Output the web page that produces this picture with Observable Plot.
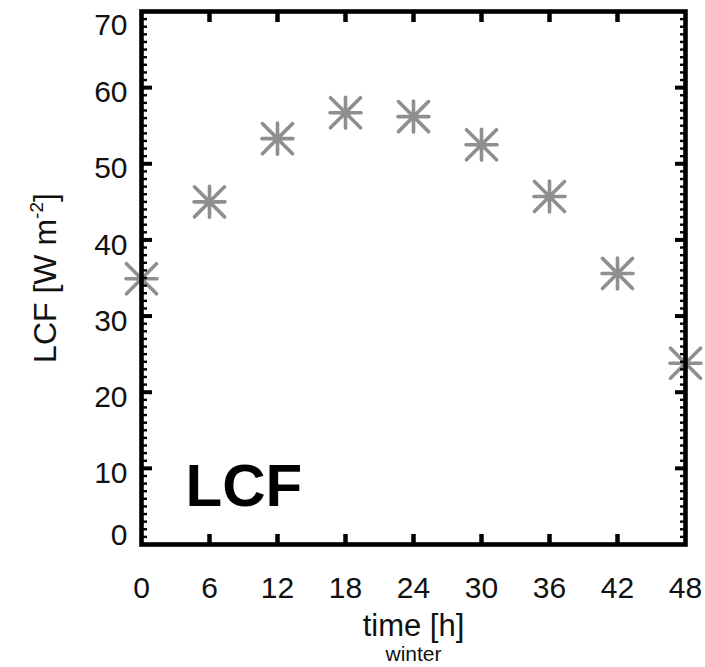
<!DOCTYPE html>
<html>
<head>
<meta charset="utf-8">
<script src="https://cdn.jsdelivr.net/npm/d3@7"></script>
<script src="https://cdn.jsdelivr.net/npm/@observablehq/plot@0.6"></script>
<style>
  html, body { margin: 0; padding: 0; background: #fff; }
  svg { display: block; }
</style>
</head>
<body>
<div id="chart"></div>
<script>
// Data
const hours = [0, 6, 12, 18, 24, 30, 36, 42, 48];
const lcf = [34.9, 45.0, 53.3, 56.7, 56.2, 52.5, 45.7, 35.6, 23.8];

// Tick labels
const xTickLabels = [0, 6, 12, 18, 24, 30, 36, 42, 48];
const xInnerTicks = [6, 12, 18, 24, 30, 36, 42];
const yMidLabels = [10, 20, 30, 40, 50, 60];
const yMajorTicks = [10, 20, 30, 40, 50, 60];
const yMinorTicks = d3.range(0, 71, 1);

const panelLabel = "LCF";
const xLabel = "time [h]";
const xSubLabel = "winter";
const yLabelMain = "LCF [W m";
const yLabelSup = "-2";
const yLabelEnd = "]";

const data = hours.map((h, i) => ({ h, v: lcf[i] }));

// 8-armed asterisk symbol
const asterisk8 = {
  draw(context, size) {
    const r = Math.sqrt(size / Math.PI);
    const d = r * 0.97;
    context.moveTo(-r, 0); context.lineTo(r, 0);
    context.moveTo(0, -r); context.lineTo(0, r);
    context.moveTo(-d, -d); context.lineTo(d, d);
    context.moveTo(-d, d); context.lineTo(d, -d);
  }
};

const FONT = "'Liberation Sans', Arial, Helvetica, sans-serif";

const svg = Plot.plot({
  width: 705,
  height: 667,
  marginLeft: 141,
  marginRight: 20,
  marginTop: 11,
  marginBottom: 123,
  style: { fontFamily: FONT, background: "white", color: "black", overflow: "visible" },
  x: { domain: [0, 48] },
  y: { domain: [0, 70] },
  marks: [
    Plot.dot(data, {
      x: "h", y: "v", symbol: asterisk8, r: 15.5,
      stroke: "#8f8f8f", strokeWidth: 3.6, fill: "none", strokeLinecap: "round"
    }),
    // minor y ticks (left & right)
    Plot.axisY({ anchor: "left", ticks: yMinorTicks, tickSize: -6, strokeWidth: 2.4, fill: "none", label: null }),
    Plot.axisY({ anchor: "right", ticks: yMinorTicks, tickSize: -6, strokeWidth: 2.4, fill: "none", label: null }),
    // major y ticks
    Plot.axisY({ anchor: "left", ticks: yMajorTicks, tickSize: -11, strokeWidth: 4, fill: "none", label: null }),
    Plot.axisY({ anchor: "right", ticks: yMajorTicks, tickSize: -11, strokeWidth: 4, fill: "none", label: null }),
    // x ticks (bottom & top)
    Plot.axisX({ anchor: "bottom", ticks: xInnerTicks, tickSize: -10, strokeWidth: 4.5, fill: "none", label: null }),
    Plot.axisX({ anchor: "top", ticks: xInnerTicks, tickSize: -10, strokeWidth: 4.5, fill: "none", label: null }),
    // y tick labels
    Plot.axisY({ anchor: "left", ticks: yMidLabels, tickSize: 0, tickPadding: 14, fontSize: 30, dy: 5, fill: "#111", label: null }),
    Plot.axisY({ anchor: "left", ticks: [0], tickSize: 0, tickPadding: 14, fontSize: 30, dy: -9, fill: "#111", label: null }),
    Plot.axisY({ anchor: "left", ticks: [70], tickSize: 0, tickPadding: 14, fontSize: 30, dy: 14, fill: "#111", label: null }),
    // x tick labels
    Plot.axisX({ anchor: "bottom", ticks: xTickLabels, tickSize: 0, tickPadding: 32, fontSize: 30, fill: "#111", label: null }),
    // frame
    Plot.frame({ stroke: "black", strokeWidth: 4.6 }),
    // panel label
    Plot.text([panelLabel], {
      text: d => d, frameAnchor: "bottom-left", dx: 44, dy: -39,
      textAnchor: "start", lineAnchor: "bottom", fontSize: 60, fontWeight: "bold", fill: "black"
    }),
    // x axis label
    Plot.text([xLabel], {
      text: d => d, frameAnchor: "bottom", dy: 82, lineAnchor: "middle", fontSize: 31, fill: "#111"
    }),
    Plot.text([xSubLabel], {
      text: d => d, frameAnchor: "bottom", dy: 110, lineAnchor: "middle", fontSize: 21, fill: "#111"
    }),
    // y axis label
    Plot.text([yLabelMain], {
      text: d => d, frameAnchor: "left", dx: -96, rotate: -90, lineAnchor: "middle",
      textAnchor: "middle", fontSize: 32, fill: "#111"
    })
  ]
});

// Build superscript in the y label
d3.select(svg).selectAll("text").each(function () {
  if (this.textContent === yLabelMain) {
    const t = d3.select(this);
    t.attr("text-anchor", "middle");
    t.text(null);
    t.append("tspan").text(yLabelMain);
    t.append("tspan").attr("dy", -13).attr("font-size", 19).text(yLabelSup);
    t.append("tspan").attr("dy", 13).text(yLabelEnd);
  }
});

document.getElementById("chart").appendChild(svg);
</script>
</body>
</html>
